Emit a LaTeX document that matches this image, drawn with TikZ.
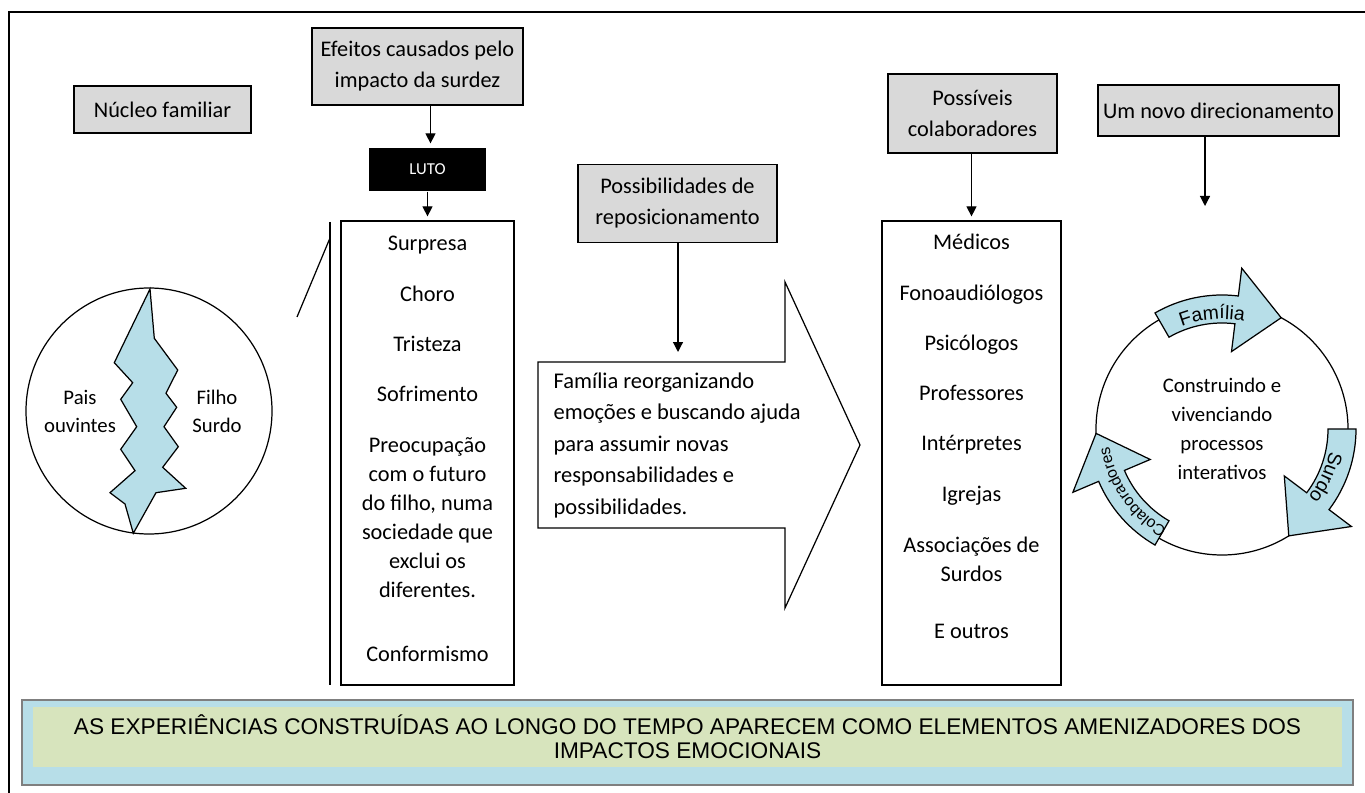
\documentclass[tikz,border=0pt]{standalone}
\usepackage{fontspec}
\setmainfont{Carlito}
\newfontfamily\arialfont{Liberation Sans}
\usepackage{tikz}
\usetikzlibrary{arrows.meta, positioning, decorations.text}
\definecolor{boxgray}{HTML}{D9D9D9}
\definecolor{aquafill}{HTML}{B7DEE8}
\definecolor{olivefill}{HTML}{D7E4BD}
\definecolor{bordergray}{HTML}{7F7F7F}
\newlength\px
\setlength\px{0.02cm}

\begin{document}
\begin{tikzpicture}[x=0.02cm, y=-0.02cm, line width=0.7pt,
    graybox/.style={draw, fill=boxgray, align=center, inner sep=0pt,
        font=\fontsize{12.7}{17.6}\selectfont},
    listbox/.style={draw, inner sep=0pt, minimum height=464\px},
    listtext/.style={align=center, inner sep=0pt, font=\fontsize{12.7}{16.5}\selectfont},
    flow/.style={-{Triangle[length=2mm, width=2mm]}, shorten >=4\px},
]
    \useasboundingbox (0,0) rectangle (1365,793);

    % outer frame (cut at the right and bottom)
    \draw[line width=1.1pt] (1365,12) -- (9,12) -- (9,793);

    % family nucleus
    \node[graybox, minimum width=177\px, minimum height=47\px] (nucleo) at (162.5,109.5) {Núcleo familiar};
    \node[draw, circle, minimum size=246\px, inner sep=0pt] (familia) at (149,411) {};
    \draw[fill=aquafill] (150,289) -- (154.3,338.3) -- (177.7,370) -- (166,393.3) -- (176.7,407.3)
        -- (164,426.7) -- (178.3,446.7) -- (162.7,467.3) -- (185.7,488.3) -- (156,492.7)
        -- (133.3,533.3) -- (125,504) -- (110,492.7) -- (135,470.7) -- (120.7,449.3)
        -- (136.7,426.7) -- (120.7,399.3) -- (132.7,382.7) -- (114.3,362.7) -- cycle;
    \node[align=center, font=\fontsize{11.8}{15.9}\selectfont] (pais) at (80,411) {Pais\\ouvintes};
    \node[align=center, font=\fontsize{11.8}{15.9}\selectfont] (filho) at (217,411) {Filho\\Surdo};

    % effects of deafness
    \node[graybox, minimum width=211\px, minimum height=77\px] (efeitos) at (417.5,66.5)
        {Efeitos causados pelo\\impacto da surdez};
    \node[fill=black, text=white, inner sep=0pt, minimum width=117\px, minimum height=43\px,
        font=\fontsize{9.5}{11}\selectfont] (luto) at (427.5,169.5) {LUTO};
    \node[listbox, minimum width=173\px] (efeitoslista) at (427.5,453) {};
    \node[listtext, below=15\px] (efeitostxt) at (efeitoslista.north)
        {Surpresa\\[22\px]Choro\\[21\px]Tristeza\\[21\px]Sofrimento\\[22\px]Preocupação\\com o futuro\\do filho, numa\\sociedade que\\exclui os\\diferentes.\\[35\px]Conformismo};
    \draw (330,222) -- (330,685);
    \draw (297,317) -- (330,238);

    \draw[flow] ([xshift=3\px]efeitos.south -| luto.north) -- ([xshift=3\px]luto.north);
    \draw[flow] (luto.south) -- (efeitoslista.north);

    % repositioning
    \node[graybox, minimum width=199\px, minimum height=78\px] (possib) at (677.5,203.5)
        {Possibilidades de\\reposicionamento};
    \draw (538,362) -- (785,362) -- (785,282) -- (860,445) -- (785,608) -- (785,528) -- (538,528) -- cycle;
    \node[align=left, anchor=north west, inner sep=0pt, font=\fontsize{12.8}{17.9}\selectfont] (reorg) at (553,372)
        {Família reorganizando\\emoções e buscando ajuda\\para assumir novas\\responsabilidades e\\possibilidades.};
    \coordinate (reorgtopo) at (678,356);
    \draw[flow] (possib.south -| reorgtopo) -- (reorgtopo);

    % collaborators
    \node[graybox, minimum width=169\px, minimum height=79\px] (possiveis) at (972.5,113.5)
        {Possíveis\\colaboradores};
    \node[listbox, minimum width=179\px] (colablista) at (971.5,453) {};
    \node[listtext, below=13\px] (colabtxt) at (colablista.north)
        {Médicos\\[22\px]Fonoaudiólogos\\[21\px]Psicólogos\\[21\px]Professores\\[21\px]Intérpretes\\[22\px]Igrejas\\[22\px]Associações de\\Surdos\\[28\px]E outros};
    \draw[flow] (possiveis.south -| colablista.north) -- (colablista.north);

    % new direction
    \node[graybox, minimum width=241\px, minimum height=51\px] (novo) at (1218.5,110.5) {Um novo direcionamento};
    \coordinate (novoseta) at (1205,210);
    \draw[flow] (novo.south -| novoseta) -- (novoseta);

    \begin{scope}[shift={(1222,429)}, y=0.02cm]
        \node[draw, circle, minimum size=252\px, inner sep=0pt] (ciclo) at (0,0) {};
        \foreach \t in {120, 0, 240} {
            \draw[fill=aquafill] (\t:134) arc[start angle=\t, end angle=\t-37, radius=134]
                -- (\t-37:162) -- (\t-58:126) -- (\t-37:78) -- (\t-37:106)
                arc[start angle=\t-37, end angle=\t, radius=106] -- cycle;
        }
        \path[decorate, decoration={text along path, text align=center,
            text={|\arialfont\fontsize{11}{13}\selectfont|Família}}]
            (120:110) arc[start angle=120, end angle=70, radius=110];
        \path[decorate, decoration={text along path, text align=center,
            text={|\arialfont\fontsize{11}{13}\selectfont|Surdo}}]
            (0:110) arc[start angle=0, end angle=-50, radius=110];
        \path[decorate, decoration={text along path, text align=center,
            text={|\arialfont\fontsize{9}{11}\selectfont|Colaboradores}}]
            (240:114) arc[start angle=240, end angle=190, radius=114];
        \node[align=center, font=\fontsize{11.8}{16.4}\selectfont] (ciclotxt) at (0,0)
            {Construindo e\\vivenciando\\processos\\interativos};
    \end{scope}

    % bottom band
    \node[draw=bordergray, fill=aquafill, line width=1pt, minimum width=1331\px, minimum height=85\px,
        inner sep=0pt] (faixa) at (687.5,742.5) {};
    \node[fill=olivefill, minimum width=1309\px, minimum height=60\px, inner sep=0pt,
        align=center, font=\arialfont\fontsize{12.9}{13.7}\selectfont] (experiencias) at (687.5,737)
        {AS EXPERIÊNCIAS CONSTRUÍDAS AO LONGO DO TEMPO APARECEM COMO ELEMENTOS AMENIZADORES DOS\\IMPACTOS EMOCIONAIS};
\end{tikzpicture}
\end{document}
